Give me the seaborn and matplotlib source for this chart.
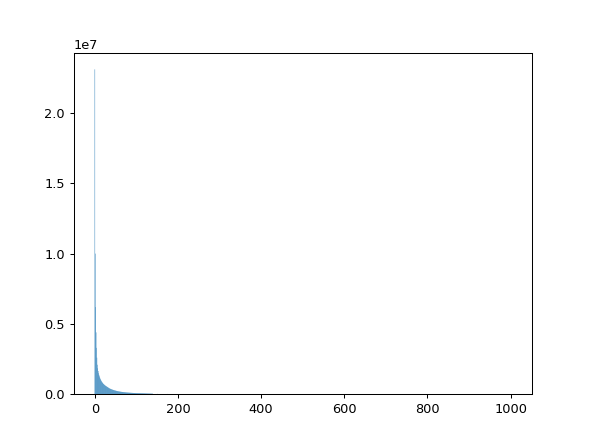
"""Histogram of a heavy-tailed count distribution (discrete bins 0..1000)."""

import matplotlib
matplotlib.use("Agg")
import matplotlib.pyplot as plt
import numpy as np
import seaborn as sns

# counts per value (values 0..139 listed one by one)
head_counts = [
    23.1e6, 10.0e6, 6.2e6, 4.4e6, 3.3e6, 2.6e6, 2.1e6, 1.85e6, 1.65e6, 1.5e6,
    1.38e6, 1.28e6, 1.19e6, 1.11e6, 1.04e6, 0.98e6, 0.93e6, 0.88e6, 0.84e6, 0.80e6,
    0.76e6, 0.73e6, 0.70e6, 0.67e6, 0.65e6, 0.62e6, 0.60e6, 0.58e6, 0.56e6, 0.54e6,
    0.52e6, 0.50e6, 0.48e6, 0.46e6, 0.44e6, 0.42e6, 0.41e6, 0.39e6, 0.38e6, 0.37e6,
    355e3, 340e3, 330e3, 320e3, 310e3, 300e3, 290e3, 280e3, 270e3, 265e3,
    255e3, 248e3, 240e3, 232e3, 225e3, 218e3, 212e3, 206e3, 200e3, 195e3,
    190e3, 185e3, 180e3, 175e3, 170e3, 166e3, 162e3, 158e3, 154e3, 150e3,
    147e3, 143e3, 140e3, 137e3, 134e3, 131e3, 128e3, 125e3, 122e3, 120e3,
    117e3, 115e3, 113e3, 110e3, 108e3, 106e3, 104e3, 102e3, 100e3, 98e3,
    96e3, 94e3, 92e3, 90e3, 89e3, 87e3, 86e3, 84e3, 83e3, 81e3,
    80e3, 79e3, 78e3, 77e3, 76e3, 75e3, 74e3, 73e3, 72e3, 71e3,
    70e3, 69e3, 68e3, 67e3, 66e3, 65e3, 64e3, 63e3, 62e3, 61e3,
    60e3, 59e3, 58e3, 57e3, 56e3, 55e3, 54e3, 53e3, 52e3, 51e3,
    50e3, 49e3, 48e3, 47e3, 46e3, 45e3, 44e3, 43e3, 42e3, 41e3,
]
head_values = list(range(len(head_counts)))

# sparse tail, too small to see but it sets the x range
tail_values = [150, 175, 200, 250, 300, 400, 500, 600, 700, 800, 900, 1000]
tail_counts = [30e3, 24e3, 20e3, 15e3, 12e3, 9e3, 7e3, 6e3, 5e3, 4e3, 3e3, 2e3]

values = np.array(head_values + tail_values)
counts = np.array(head_counts + tail_counts)

fig, ax = plt.subplots(figsize=(6.4, 4.8), dpi=92.3)
# bars are narrower than a pixel, so turn snapping off or Agg drops them
sns.histplot(x=values, weights=counts, discrete=True, alpha=1.0,
             linewidth=0, snap=False, ax=ax)
ax.set_xlabel("")
ax.set_ylabel("")
fig.savefig("out.png", dpi=92.3)
